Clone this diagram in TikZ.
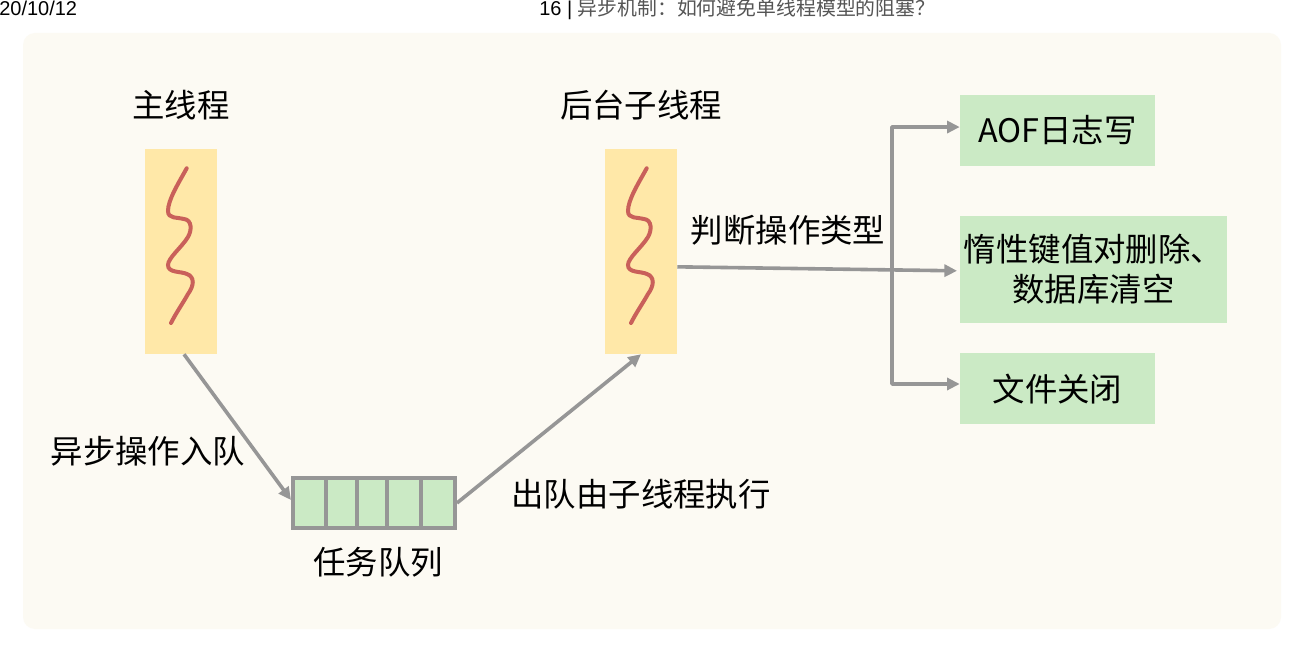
\documentclass[tikz,border=0pt]{standalone}
\usepackage{fontspec}
\setmainfont{Liberation Sans}
\newfontfamily\cjk{Noto Sans CJK SC}
\usetikzlibrary{arrows.meta,calc}
\definecolor{pagebg}{HTML}{FCFAF3}
\definecolor{threadfill}{HTML}{FFE8A8}
\definecolor{taskfill}{HTML}{CBEAC5}
\definecolor{squig}{HTML}{C9605A}
\definecolor{conn}{HTML}{969696}
\definecolor{headgray}{HTML}{555555}
\tikzset{
  lbl/.style={font=\cjk\fontsize{24.3pt}{30pt}\selectfont, inner sep=0pt, align=center, text=black},
  thread/.style={fill=threadfill, draw=none, minimum width=54pt, minimum height=153.75pt, inner sep=0pt},
  taskbox/.style={fill=taskfill, draw=none, inner sep=0pt, align=center, font=\cjk\fontsize{24.3pt}{30pt}\selectfont},
  cell/.style={fill=taskfill, draw=conn, line width=3pt, inner sep=0pt, minimum height=37.5pt},
  arr/.style={draw=conn, line width=2.7pt, -{Triangle[length=9.5pt,width=9pt]}},
  wave/.style={draw=squig, line width=3pt, line cap=round},
  head/.style={inner sep=0pt, anchor=base west, font=\fontsize{15pt}{16pt}\selectfont}
}
\newcommand{\wavecurve}{(186.7,168.3) .. controls (178,184) and (168,200) .. (168,211)
  .. controls (168,219) and (177,217) .. (184,219)
  .. controls (192,220) and (192,230) .. (188,237)
  .. controls (182,247) and (168,258) .. (168,265)
  .. controls (168,273) and (180,271) .. (187,274)
  .. controls (195,277) and (194,286) .. (188,294)
  .. controls (183,303) and (176,313) .. (171,323)}
\begin{document}
\begin{tikzpicture}[x=0.75pt,y=-0.75pt]
\useasboundingbox (0,0) rectangle (1304,648);
\fill[white] (0,0) rectangle (1304,648);
\fill[pagebg, rounded corners=9pt] (23,33) rectangle (1281,629);
% header
\node[head] (date) at (-1,16) {20/10/12};
\node[head] (titlenum) at (539,16) {16 |};
\node[head, font=\cjk\fontsize{14.9pt}{16pt}\selectfont, text=headgray] (title) at (577.5,16) {异步机制：如何避免单线程模型的阻塞？};
% threads
\node[thread] (mt) at (181,251.5) {};
\node[thread] (bg) at (641,251.5) {};
\draw[wave] \wavecurve;
\begin{scope}[xshift=345pt]
\draw[wave] \wavecurve;
\end{scope}
% queue
\node[cell, minimum width=24.75pt] (c1) at (309.5,503) {};
\node[cell, minimum width=23.25pt] (c2) at (341.5,503) {};
\node[cell, minimum width=22.5pt] (c3) at (372,503) {};
\node[cell, minimum width=25.5pt] (c4) at (404,503) {};
\node[cell, minimum width=25.5pt] (c5) at (438,503) {};
% labels
\node[lbl] (lmt) at (181,105) {主线程};
\node[lbl] (lbg) at (641,105) {后台子线程};
\node[lbl] (ljudge) at (788,230) {判断操作类型};
\node[lbl] (lenq) at (148,451) {异步操作入队};
\node[lbl] (ldeq) at (641,494) {出队由子线程执行};
\node[lbl] (lq) at (378,562) {任务队列};
% task boxes
\node[taskbox, minimum width=146.25pt, minimum height=53.25pt] (aof) at (1057.5,130.5) {AOF日志写};
\node[taskbox, minimum width=200.25pt, minimum height=80.25pt] (lazy) at (1093.5,269.5) {惰性键值对删除、\\数据库清空};
\node[taskbox, minimum width=146.25pt, minimum height=53.25pt] (fclose) at (1057.5,389) {文件关闭};
% connectors
\draw[arr] ([xshift=2.25pt]mt.south) -- ([yshift=2.25pt]c1.west);
\draw[arr] (c5.east) -- (bg.south);
\coordinate (jn) at (892,269);
\draw[arr] ([yshift=-11.5pt]bg.east) -- ([xshift=-2pt,yshift=-1pt]lazy.west);
\draw[arr, line cap=round, line join=round] (jn) |- ([yshift=2.6pt]aof.west);
\draw[arr, line cap=round, line join=round] (jn) |- ([yshift=3.75pt]fclose.west);
\end{tikzpicture}
\end{document}
